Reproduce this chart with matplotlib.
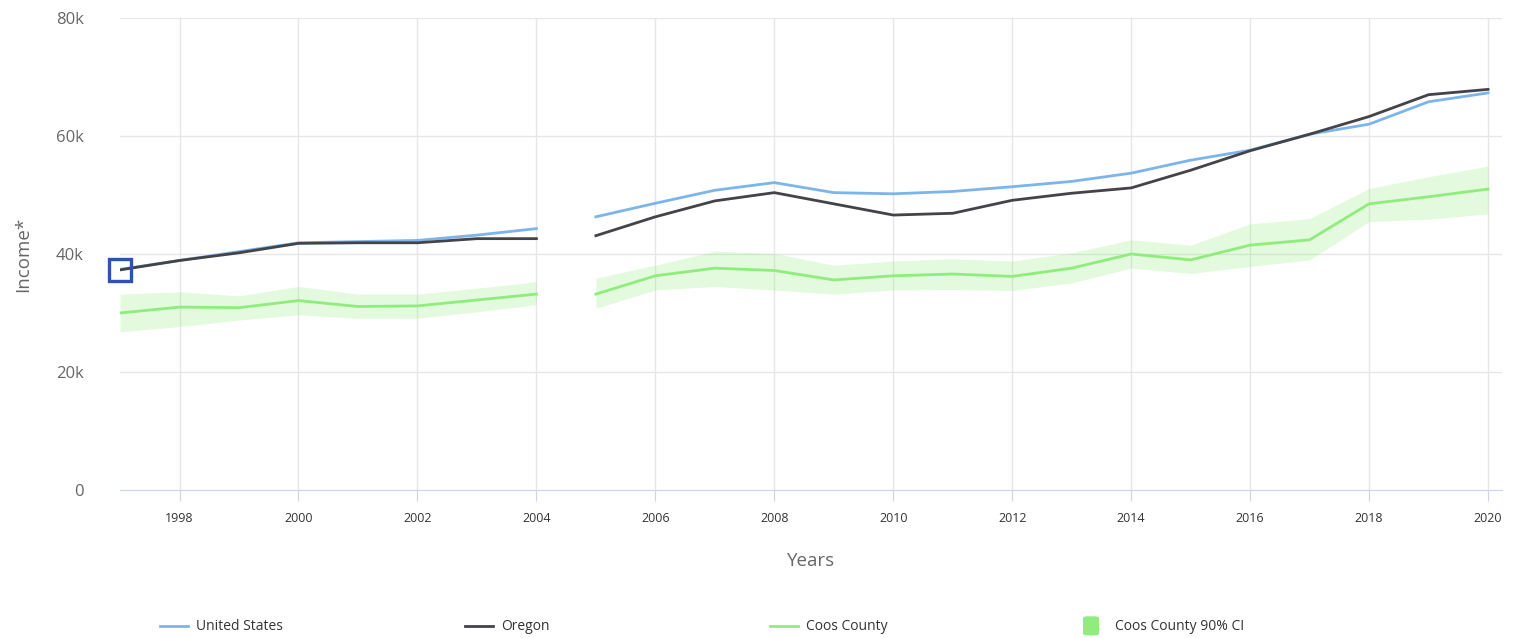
import numpy as np
import matplotlib.pyplot as plt
from matplotlib.lines import Line2D
from matplotlib.patches import FancyBboxPatch

plt.rcParams['font.family'] = ['Open Sans', 'DejaVu Sans']

# Reddito medio per anno (migliaia di dollari)
years = list(range(1997, 2021))
us = [37.4, 38.9, 40.4, 41.9, 42.1, 42.3, 43.2, 44.3,
      46.3, 48.6, 50.8, 52.1, 50.4, 50.2, 50.6, 51.4, 52.3, 53.7,
      55.9, 57.6, 60.3, 62.0, 65.8, 67.3]
oregon = [37.3, 38.9, 40.2, 41.8, 41.9, 41.9, 42.6, 42.6,
          43.1, 46.3, 49.0, 50.4, 48.5, 46.6, 46.9, 49.1, 50.3, 51.2,
          54.2, 57.5, 60.3, 63.3, 67.0, 67.9]
coos = [30.0, 31.0, 30.9, 32.1, 31.1, 31.2, 32.2, 33.2,
        33.2, 36.3, 37.6, 37.2, 35.6, 36.3, 36.6, 36.2, 37.6, 40.0,
        39.0, 41.5, 42.4, 48.5, 49.7, 51.0]
coos_hi = [33.2, 33.6, 32.9, 34.5, 33.2, 33.2, 34.2, 35.3,
           35.9, 38.1, 40.5, 40.1, 38.1, 38.8, 39.2, 38.8, 40.2, 42.4,
           41.5, 45.1, 46.0, 51.1, 53.1, 54.9]
coos_lo = [26.8, 27.7, 28.8, 29.7, 29.1, 29.1, 30.2, 31.4,
           30.8, 33.9, 34.5, 33.9, 33.2, 33.9, 34.0, 33.8, 35.1, 37.6,
           36.7, 37.9, 39.0, 45.5, 45.9, 46.8]
split = 8   # interruzione tra 2004 e 2005

c_us = '#7cb5ec'
c_or = '#434348'
c_coos = '#90ed7d'

fig = plt.figure(figsize=(15.14, 6.38), dpi=100)
ax = fig.add_axes([0.0793, 0.232, 0.9128, 0.7398])

x = np.array(years)
k = lambda v: np.array(v) * 1000
for s in (slice(0, split), slice(split, None)):
    ax.fill_between(x[s], k(coos_lo)[s], k(coos_hi)[s], color=c_coos, alpha=0.25, lw=0)
    ax.plot(x[s], k(us)[s], color=c_us, lw=2)
    ax.plot(x[s], k(oregon)[s], color=c_or, lw=2)
    ax.plot(x[s], k(coos)[s], color=c_coos, lw=2)

ax.plot(x[0], oregon[0] * 1000, marker='s', ms=16, mfc='none', mec='#2f52b0', mew=2.4,
        clip_on=False, zorder=5)

ax.set_xlim(1997, 2020.235)
ax.set_ylim(0, 80000)
ax.set_yticks([0, 20000, 40000, 60000, 80000])
ax.set_yticklabels(['0', '20k', '40k', '60k', '80k'])
ax.set_xticks(range(1998, 2021, 2))
ax.grid(True, color='#e6e6e6', lw=1)
ax.set_axisbelow(True)
for sp in ['top', 'right', 'left']:
    ax.spines[sp].set_visible(False)
ax.spines['bottom'].set_color('#ccd6eb')
ax.tick_params(axis='y', length=0, labelsize=12, labelcolor='#666666', pad=26)
ax.tick_params(axis='x', length=8, color='#ccd6eb', labelsize=9, labelcolor='#333333', pad=8)
ax.set_xlabel('Years', fontsize=13.5, color='#666666', labelpad=19)
ax.set_ylabel('Income*', fontsize=13.5, color='#666666', labelpad=17)

# legenda
ly = 0.018
items = [(160, c_us, 'United States'), (465, c_or, 'Oregon'), (770, c_coos, 'Coos County')]
for px, c, lab in items:
    fig.add_artist(Line2D([px / 1514, (px + 28) / 1514], [ly + 0.001, ly + 0.001], color=c, lw=2))
    fig.text((px + 36) / 1514, ly, lab, fontsize=10, color='#333333', va='center')
fig.add_artist(FancyBboxPatch((1083 / 1514, ly - 0.014), 16 / 1514, 0.03,
                              boxstyle='round,pad=0,rounding_size=0.003', fc=c_coos, ec='none'))
fig.text(1115 / 1514, ly, 'Coos County 90% CI', fontsize=10, color='#333333', va='center')

plt.savefig('out.png', dpi=100)
